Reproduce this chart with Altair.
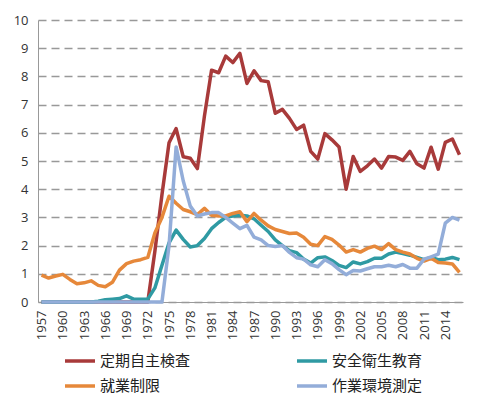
import altair as alt
import pandas as pd

years = list(range(1957, 2017))

# 定期自主検査
teiki = [0, 0, 0, 0, 0, 0, 0, 0, 0, 0, 0, 0, 0, 0, 0,            # 1957-1971
         0.0, 1.8, 3.8, 5.65, 6.15, 5.15, 5.1, 4.73, 6.6, 8.22,   # 1972-1981
         8.13, 8.72, 8.49, 8.82, 7.75, 8.2, 7.85, 7.81, 6.69, 6.83,  # 1982-1991
         6.51, 6.12, 6.27, 5.34, 5.07, 5.97, 5.75, 5.5, 4.0, 5.16,   # 1992-2001
         4.63, 4.83, 5.07, 4.75, 5.16, 5.14, 5.02, 5.34, 4.9, 4.75,  # 2002-2011
         5.49, 4.71, 5.66, 5.78, 5.22]                               # 2012-2016

# 安全衛生教育
anzen = [0, 0, 0, 0, 0, 0, 0, 0,                                   # 1957-1964
         0.03, 0.08, 0.1, 0.12, 0.22, 0.1, 0.1, 0.1, 0.5, 1.3,      # 1965-1974
         2.1, 2.55, 2.22, 1.95, 2.0, 2.25, 2.6, 2.82, 3.0, 3.05,    # 1975-1984
         3.08, 3.05, 2.95, 2.72, 2.5, 2.2, 2.0, 1.82, 1.75, 1.52,   # 1985-1994
         1.38, 1.57, 1.6, 1.47, 1.3, 1.22, 1.42, 1.35, 1.43, 1.55,  # 1995-2004
         1.55, 1.7, 1.77, 1.72, 1.66, 1.58, 1.5, 1.58, 1.5, 1.52,   # 2005-2014
         1.58, 1.5]                                                 # 2015-2016

# 就業制限
shugyo = [0.95, 0.85, 0.92, 0.98, 0.8, 0.65, 0.68, 0.75, 0.59, 0.54,  # 1957-1966
          0.7, 1.13, 1.36, 1.45, 1.5, 1.58, 2.45, 3.0, 3.75, 3.5,     # 1967-1976
          3.28, 3.2, 3.1, 3.32, 3.08, 3.05, 3.05, 3.14, 3.2, 2.85,    # 1977-1986
          3.14, 2.9, 2.7, 2.57, 2.5, 2.43, 2.45, 2.3, 2.05, 2.0,      # 1987-1996
          2.32, 2.22, 2.02, 1.77, 1.86, 1.77, 1.9, 1.98, 1.86, 2.07,  # 1997-2006
          1.86, 1.77, 1.7, 1.55, 1.45, 1.55, 1.4, 1.38, 1.35, 1.05]   # 2007-2016

# 作業環境測定
sagyo = [0, 0, 0, 0, 0, 0, 0, 0, 0, 0, 0, 0, 0, 0, 0, 0, 0, 0,      # 1957-1974
         2.0, 5.5, 4.3, 3.4, 3.05, 3.12, 3.17, 3.17, 3.0, 2.8,      # 1975-1984
         2.6, 2.72, 2.3, 2.2, 2.0, 1.97, 2.0, 1.76, 1.57, 1.52,     # 1985-1994
         1.32, 1.25, 1.5, 1.36, 1.15, 0.97, 1.12, 1.1, 1.18, 1.25,  # 1995-2004
         1.25, 1.3, 1.25, 1.33, 1.2, 1.2, 1.52, 1.6, 1.7, 2.8,      # 2005-2014
         3.0, 2.9]                                                  # 2015-2016

series_names = ["定期自主検査", "安全衛生教育", "就業制限", "作業環境測定"]
series_values = [teiki, anzen, shugyo, sagyo]
series_colors = {"定期自主検査": "#A83A3A", "安全衛生教育": "#2F9AA3",
                 "就業制限": "#E6883A", "作業環境測定": "#93ADD9"}
# legend fills column by column: col 1 = 定期自主検査, 就業制限; col 2 = 安全衛生教育, 作業環境測定
legend_order = ["定期自主検査", "就業制限", "安全衛生教育", "作業環境測定"]
x_ticks = list(range(1957, 2015, 3))
y_ticks = list(range(0, 11))

for v in series_values:
    assert len(v) == len(years), len(v)

rows = []
for name, vals in zip(series_names, series_values):
    for yr, val in zip(years, vals):
        rows.append({"year": yr, "value": val, "series": name})
df = pd.DataFrame(rows)

chart = alt.Chart(df).mark_line(strokeWidth=3.5, strokeJoin="round").encode(
    x=alt.X("year:Q",
            scale=alt.Scale(domain=[1956.5, 2016.5], nice=False, zero=False),
            axis=alt.Axis(values=x_ticks, format="d", labelAngle=270, title=None,
                          grid=False, ticks=False, domainColor="#999999",
                          labelFontSize=13, labelPadding=8, labelColor="#333333",
                          labelFont="Open Sans")),
    y=alt.Y("value:Q",
            scale=alt.Scale(domain=[0, 10], nice=False),
            axis=alt.Axis(values=y_ticks, title=None, ticks=False,
                          domainColor="#999999", gridColor="#999999",
                          gridDash=[8, 5], gridWidth=1.3,
                          labelFontSize=13, labelPadding=10, labelColor="#333333",
                          labelFont="Open Sans")),
    color=alt.Color("series:N",
                    scale=alt.Scale(domain=legend_order,
                                    range=[series_colors[n] for n in legend_order]),
                    legend=alt.Legend(title=None, orient="none", legendX=25, legendY=324,
                                      columns=2, symbolType="stroke", symbolSize=900,
                                      symbolStrokeWidth=3.5, labelFont="Noto Sans CJK JP",
                                      labelFontSize=15, labelColor="#222222",
                                      columnPadding=99, rowPadding=-7, labelOffset=3,
                                      labelLimit=0)),
).properties(
    width=425,
    height=282,
    autosize=alt.AutoSizeParams(type="none"),
    padding={"left": 30, "top": 12, "right": 29, "bottom": 96},
).configure_view(stroke=None)

chart.save("out.html", embed_options={"renderer": "svg", "actions": False})
